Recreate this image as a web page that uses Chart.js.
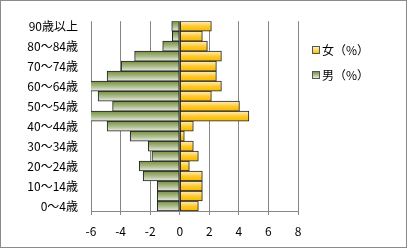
<!DOCTYPE html>
<html>
<head>
<meta charset="utf-8">
<script src="https://cdn.jsdelivr.net/npm/chart.js@4/dist/chart.umd.min.js"></script>
<style>
  html, body { margin: 0; padding: 0; background: #fff; }
  #box {
    position: relative; width: 407px; height: 248px; box-sizing: border-box;
    border: 1px solid #8a8a8a; background: #fff;
  }
  #chart { position: absolute; left: 0; top: 0; }
  .lg { position: absolute; left: 311px; font: 12px "Noto Sans CJK JP", sans-serif; color: #000; line-height: 14px; }
  .lg i { display: inline-block; width: 6px; height: 6px; border: 1px solid #555; margin-right: 2px; vertical-align: 1px; }
</style>
</head>
<body>
<div id="box">
  <canvas id="chart" width="405" height="246"></canvas>
  <div class="lg" style="top:42px"><i style="background:linear-gradient(#fcefc8,#ffc000)"></i>女（%）</div>
  <div class="lg" style="top:67px"><i style="background:linear-gradient(#7a9448,#e6eadf)"></i>男（%）</div>
</div>
<script>
// 年齢階級（下から上へ）
const ageGroups = ['0～4歳', '5～9歳', '10～14歳', '15～19歳', '20～24歳', '25～29歳', '30～34歳',
  '35～39歳', '40～44歳', '45～49歳', '50～54歳', '55～59歳', '60～64歳', '65～69歳',
  '70～74歳', '75～79歳', '80～84歳', '85～89歳', '90歳以上'];

// 女（%）
const female = [1.26, 1.53, 1.53, 1.53, 0.65, 1.26, 0.92, 0.31, 0.92, 4.68,
  4.04, 2.14, 2.82, 2.48, 2.48, 2.82, 1.87, 1.53, 2.14];

// 男（%）を負の値で
const male = [-1.52, -1.52, -1.52, -2.47, -2.74, -1.88, -2.13, -3.35, -4.91, -6.3,
  -4.54, -5.52, -6.1, -4.91, -3.96, -3.05, -1.15, -0.5, -0.54];

const xTicks = [-6, -4, -2, 0, 2, 4, 6, 8];

// 各バーの縦方向グラデーション
function barGradient(stops) {
  return function (ctx) {
    const chart = ctx.chart;
    const y = chart.scales.y;
    const fallback = stops[stops.length - 1][1];
    if (!y || ctx.type !== 'data') return fallback;
    const yc = y.getPixelForValue(ctx.dataIndex);
    const h = y.height / ageGroups.length;
    if (!Number.isFinite(yc) || !Number.isFinite(h)) return fallback;
    const g = chart.ctx.createLinearGradient(0, yc - h / 2, 0, yc + h / 2);
    stops.forEach(s => g.addColorStop(s[0], s[1]));
    return g;
  };
}

const font = { family: '"Noto Sans CJK JP", sans-serif', size: 12 };

const chart = new Chart(document.getElementById('chart'), {
  type: 'bar',
  data: {
    labels: ageGroups,
    datasets: [{
      label: '女（%）',
      data: female,
      backgroundColor: barGradient([[0, '#fcefc8'], [0.55, '#ffc828'], [1, '#f7b900']]),
      borderColor: '#222',
      borderWidth: 1,
      borderSkipped: false
    }, {
      label: '男（%）',
      data: male,
      backgroundColor: barGradient([[0, '#76903f'], [0.5, '#a9b98a'], [1, '#e8ece0']]),
      borderColor: '#222',
      borderWidth: 1,
      borderSkipped: false
    }]
  },
  options: {
    indexAxis: 'y',
    responsive: false,
    animation: false,
    layout: { padding: { left: 0, right: 108, top: 6, bottom: 6 } },
    plugins: { legend: { display: false }, tooltip: { enabled: false } },
    datasets: { bar: { barPercentage: 1, categoryPercentage: 1 } },
    scales: {
      x: {
        stacked: true,
        min: -6, max: 8,
        afterBuildTicks: s => { s.ticks = xTicks.map(v => ({ value: v })); },
        afterFit: s => { s.height = 30; },
        grid: { color: '#868686', lineWidth: 1, tickLength: 4 },
        border: { display: true, color: '#868686' },
        ticks: { font: font, color: '#000', padding: 9, maxRotation: 0 }
      },
      y: {
        stacked: true,
        reverse: true,
        grid: { display: false, drawTicks: false },
        border: { display: false },
        afterFit: s => { s.width = 90; },
        ticks: {
          font: font, color: '#000', padding: 13, autoSkip: false,
          callback: function (v, i) { return i % 2 === 0 ? ageGroups[i] : ''; }
        }
      }
    }
  }
});
chart.update();
</script>
</body>
</html>
